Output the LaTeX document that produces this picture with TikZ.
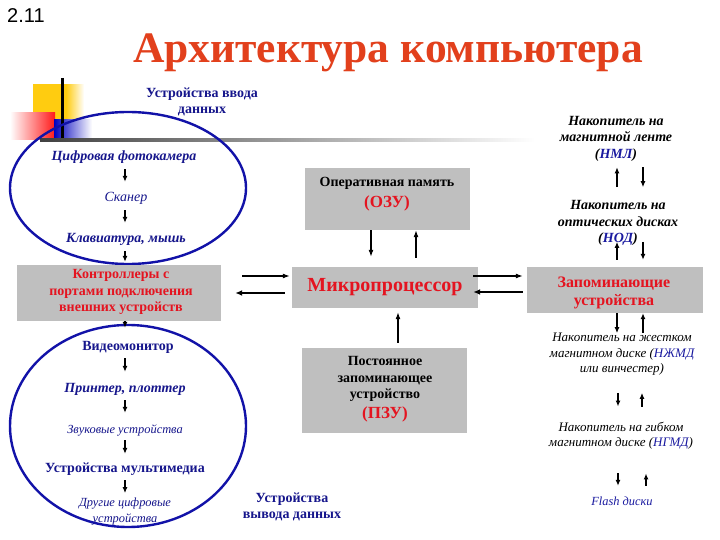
\documentclass[tikz,border=0pt]{standalone}
\usepackage{fontspec}
\setmainfont{Liberation Serif}
\newfontfamily\sansfont{Liberation Sans}
\usetikzlibrary{arrows.meta}
\definecolor{navy}{HTML}{16168C}
\definecolor{ellblue}{HTML}{1212A8}
\definecolor{tred}{HTML}{E41420}
\definecolor{titlered}{HTML}{E2401C}
\definecolor{boxgray}{HTML}{BFBFBF}
\definecolor{abbr}{HTML}{1A1AA0}
\definecolor{goldy}{HTML}{FFCC10}
\begin{document}
\begin{tikzpicture}[x=1pt,y=-1pt,
  arr/.style={-{Latex[length=6pt,width=5pt]}, line width=1.4pt, black},
  harr/.style={-{Latex[length=7pt,width=5pt]}, line width=1.1pt, black},
  harrb/.style={-{Latex[length=7pt,width=6pt]}, line width=2pt, black},
  varr/.style={arr, shorten <=5pt, shorten >=11pt},
  lbl/.style={inner sep=0pt, text height=9pt, text depth=3pt, text=navy},
  mlbl/.style={inner sep=0pt, align=center},
  box/.style={fill=boxgray, inner sep=0pt},
  f14b/.style={font=\bfseries\fontsize{14}{16.5}\selectfont},
  f14bi/.style={font=\bfseries\itshape\fontsize{14}{16.5}\selectfont},
  f14i/.style={font=\itshape\fontsize{14}{16.5}\selectfont},
  f13i/.style={font=\itshape\fontsize{13}{15.5}\selectfont},
  f12i/.style={font=\itshape\fontsize{12.4}{16}\selectfont},
  ell/.style={draw=ellblue, line width=2.4pt}
]
\useasboundingbox (0,0) rectangle (720,540);
\fill[white] (0,0) rectangle (720,540);

% decoration
\shade[left color=goldy, right color=goldy] (33,85) rectangle (66,130);
\shade[left color=goldy, right color=white] (66,85) rectangle (84,130);
\shade[left color=white, right color=red!90!white] (10,113) rectangle (55,140);
\shade[left color=blue!75!black, right color=white] (54,120) rectangle (92,140);
\draw[line width=3pt, black] (62,78) -- (62,142);
\shade[left color=black!75, right color=white] (40,138.5) rectangle (535,141.5);

% header
\node[anchor=base west, inner sep=0pt, font=\sansfont\fontsize{20}{22}\selectfont] (num) at (7,23) {2.11};
\node[anchor=base, inner sep=0pt, text=titlered, font=\bfseries\fontsize{43.5}{50}\selectfont] (title) at (388,63) {Архитектура компьютера};

% input ellipse
\draw[ell] (128,188) ellipse [x radius=118, y radius=76];
\node[mlbl, f14b, text=navy] (inp) at (202,102) {Устройства ввода\\данных};
\node[lbl, f14bi] (cam) at (124,158) {Цифровая фотокамера};
\node[lbl, f14i] (scan) at (126,199) {Сканер};
\node[lbl, f14bi] (kbd) at (126,240) {Клавиатура, мышь};
\draw[varr] (cam.south -| 125,0) -- (scan.north -| 125,0);
\draw[varr] (scan.south -| 125,0) -- (kbd.north -| 125,0);

% controllers
\node[box, minimum width=204pt, minimum height=56pt] (ctrl) at (119,293) {};
\node[mlbl, text=tred, f14b] (ctrlt) at (121,292) {Контроллеры с\\портами подключения\\внешних устройств};
\draw[arr, shorten <=5pt, shorten >=3pt] (kbd.south -| 125,0) -- (ctrl.north -| 125,0);

% output ellipse
\draw[ell] (128,426) ellipse [x radius=118, y radius=101];
\node[lbl, f14b] (video) at (128,347) {Видеомонитор};
\node[lbl, f14bi] (print) at (125,389) {Принтер, плоттер};
\node[lbl, f12i] (sound) at (125,430) {Звуковые устройства};
\node[lbl, f14b] (mm) at (125,469) {Устройства мультимедиа};
\node[mlbl, f12i, text=navy] (other) at (125,512) {Другие цифровые\\устройства};
\draw[arr, shorten <=0pt, shorten >=13pt] (ctrl.south -| 125,0) -- (video.north -| 125,0);
\draw[varr] (video.south -| 125,0) -- (print.north -| 125,0);
\draw[varr] (print.south -| 125,0) -- (sound.north -| 125,0);
\draw[arr, shorten <=4pt, shorten >=9pt] (sound.south -| 125,0) -- (mm.north -| 125,0);
\draw[arr, shorten <=5pt, shorten >=5pt] (mm.south -| 125,0) -- (other.north -| 125,0);
\node[mlbl, f14b, text=navy] (outp) at (292,507) {Устройства\\вывода данных};

% RAM
\node[box, minimum width=165pt, minimum height=62pt] (ozu) at (387.5,199) {};
\node[mlbl] (ozut) at (387,194) {{\bfseries\fontsize{14}{16}\selectfont Оперативная память}\\[5pt]{\color{tred}\bfseries\fontsize{17}{19}\selectfont (ОЗУ)}};

% CPU
\node[box, minimum width=186pt, minimum height=41pt, text=tred, font=\bfseries\fontsize{20}{22}\selectfont] (mp) at (385,287.5) {Микропроцессор};

% ROM
\node[box, minimum width=165pt, minimum height=85pt] (pzu) at (384.5,390.5) {};
\node[mlbl, font=\bfseries\fontsize{14}{16.5}\selectfont] (pzut) at (385,389) {Постоянное\\запоминающее\\устройство\\[3pt]{\color{tred}\fontsize{17}{19}\selectfont (ПЗУ)}};

% storage
\node[box, minimum width=176pt, minimum height=46pt] (stor) at (615,290) {};
\node[mlbl, text=tred, font=\bfseries\fontsize{16}{18}\selectfont] (stort) at (614,293) {Запоминающие\\устройства};

% CPU connections
\draw[harr, shorten >=10pt] (ozu.south -| 371,0) -- (mp.north -| 371,0);
\draw[harr, shorten <=9pt] (mp.north -| 416,0) -- (ozu.south -| 416,0);
\draw[harr, shorten <=5pt, shorten >=4pt] (pzu.north -| 398,0) -- (mp.south -| 398,0);
\draw[harr, shorten <=21pt, shorten >=2pt] (ctrl.east |- 0,276) -- (mp.west |- 0,276);
\draw[harrb, shorten <=7pt, shorten >=14pt] (mp.west |- 0,293) -- (ctrl.east |- 0,293);
\draw[harr, shorten <=-5pt, shorten >=4pt] (mp.east |- 0,276) -- (stor.west |- 0,276);
\draw[harrb, shorten <=4pt, shorten >=-5pt] (stor.west |- 0,292) -- (mp.east |- 0,292);

% right column
\node[mlbl, f14bi] (nml) at (616,138.5) {Накопитель на\\магнитной ленте\\(\textcolor{abbr}{НМЛ})};
\node[mlbl, f14bi] (nod) at (618,223) {Накопитель на\\оптических дисках\\(\textcolor{abbr}{НОД})};
\node[mlbl, f13i] (hdd) at (622,354.5) {Накопитель на жестком\\магнитном диске (\textcolor{abbr}{НЖМД}\\или винчестер)};
\node[mlbl, f13i] (fdd) at (621,435.5) {Накопитель на гибком\\магнитном диске (\textcolor{abbr}{НГМД})};
\node[lbl, f12i, text=abbr] (flash) at (622,502) {Flash диски};

\draw[arr, shorten <=13pt, shorten >=6pt] (nod.north -| 617,0) -- (nml.south -| 617,0);
\draw[arr, shorten <=6pt, shorten >=13pt] (nml.south -| 643,0) -- (nod.north -| 643,0);
\draw[arr, shorten <=7pt, shorten >=-4pt] (stor.north -| 617,0) -- (nod.south -| 617,0);
\draw[arr, shorten <=-4pt, shorten >=7pt] (nod.south -| 643,0) -- (stor.north -| 643,0);
\draw[arr, shorten >=0pt] (stor.south -| 617,0) -- (hdd.north -| 617,0);
\draw[arr] (hdd.north -| 643,0) -- (stor.south -| 643,0);
\draw[arr, shorten <=17pt, shorten >=15pt] (hdd.south -| 618,0) -- (fdd.north -| 618,0);
\draw[arr, shorten <=15pt, shorten >=17pt] (fdd.north -| 642,0) -- (hdd.south -| 642,0);
\draw[arr, shorten <=24pt, shorten >=10pt] (fdd.south -| 618,0) -- (flash.north -| 618,0);
\draw[arr, shorten <=10pt, shorten >=24pt] (flash.north -| 646,0) -- (fdd.south -| 646,0);
\end{tikzpicture}
\end{document}
